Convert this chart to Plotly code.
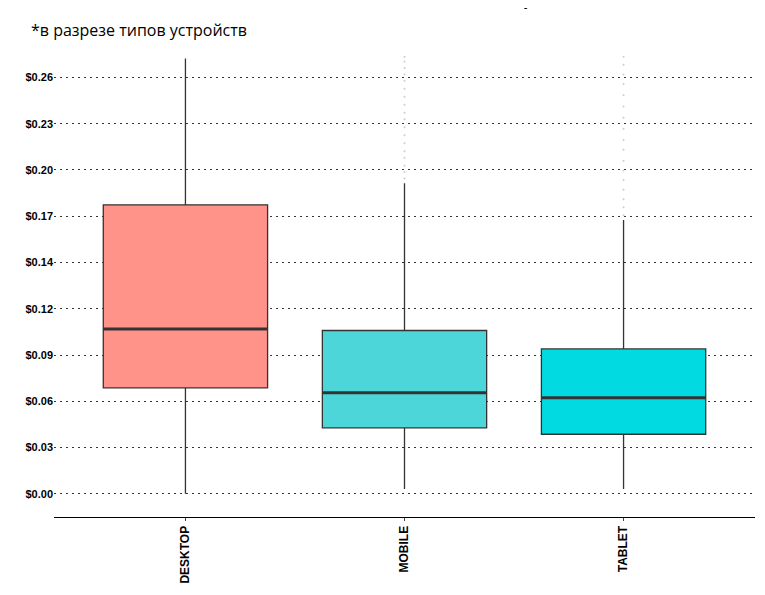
import plotly.graph_objects as go

devices = ['DESKTOP', 'MOBILE', 'TABLET']
q1 = [0.0662, 0.0412, 0.0372]
median = [0.1030, 0.0632, 0.0600]
q3 = [0.1805, 0.1020, 0.0905]
lower = [0.0000, 0.0030, 0.0030]
upper = [0.2720, 0.1940, 0.1710]
colors = ['#ff9289', '#4dd6da', '#00dae0']

# outliers above the upper whisker
mobile_out = [0.197, 0.201, 0.205, 0.210, 0.214, 0.219, 0.224, 0.229, 0.234, 0.238,
              0.243, 0.248, 0.253, 0.258, 0.262, 0.266, 0.270, 0.273]
tablet_out = [0.174, 0.179, 0.184, 0.190, 0.196, 0.202, 0.208, 0.215, 0.221, 0.228,
              0.235, 0.242, 0.249, 0.256, 0.262, 0.268, 0.273]

tick_vals = [i * 0.0289 for i in range(10)]
tick_text = ['$0.00', '$0.03', '$0.06', '$0.09', '$0.12', '$0.14', '$0.17', '$0.20', '$0.23', '$0.26']

box_w = 0.75
fig = go.Figure()
for i, d in enumerate(devices):
    fig.add_trace(go.Box(x=[i], q1=[q1[i]], median=[median[i]], q3=[q3[i]],
                         lowerfence=[lower[i]], upperfence=[upper[i]],
                         fillcolor=colors[i], line=dict(color='#333333', width=1.3),
                         width=box_w, whiskerwidth=0, showlegend=False, hoverinfo='y'))
    # thicker median line, as in the reference
    fig.add_trace(go.Scatter(x=[i - box_w / 2, i + box_w / 2], y=[median[i], median[i]],
                             mode='lines', line=dict(color='#333333', width=3),
                             showlegend=False, hoverinfo='skip'))

for i, vals in [(1, mobile_out), (2, tablet_out)]:
    fig.add_trace(go.Scatter(x=[i] * len(vals), y=vals, mode='markers',
                             marker=dict(size=2, color='#cccccc'), showlegend=False))

fig.update_layout(
    width=765, height=595, plot_bgcolor='white', paper_bgcolor='white',
    margin=dict(l=46, r=18, t=44, b=86),
    font=dict(family='Liberation Sans', color='black'),
    annotations=[
        dict(text='<b>Стоимость клика в поисковой сети в России во 2-м квартале 2020</b>',
             xref='paper', yref='paper', x=-0.04, y=1.085, xanchor='left', yanchor='bottom',
             showarrow=False, font=dict(family='Open Sans', size=17, color='black')),
        dict(text='*в разрезе типов устройств',
             xref='paper', yref='paper', x=-0.035, y=1.075, xanchor='left', yanchor='top',
             showarrow=False, font=dict(family='Open Sans', size=16, color='black')),
    ],
)
fig.update_xaxes(range=[-0.6, 2.6], tickvals=[0, 1, 2], ticktext=['<b>%s</b>' % d for d in devices],
                 showline=True, linecolor='black', linewidth=1,
                 ticks='outside', ticklen=3, tickangle=-90, showgrid=False, zeroline=False,
                 tickfont=dict(size=12, family='Liberation Sans', color='black'))
fig.update_yaxes(range=[-0.0145, 0.276], tickvals=tick_vals, ticktext=['<b>%s</b>' % t for t in tick_text],
                 showgrid=True, gridcolor='#333333', griddash='2px,4px', gridwidth=1.2,
                 zeroline=False, ticks='', tickfont=dict(size=11, color='black'))

fig.write_html("out.html")
